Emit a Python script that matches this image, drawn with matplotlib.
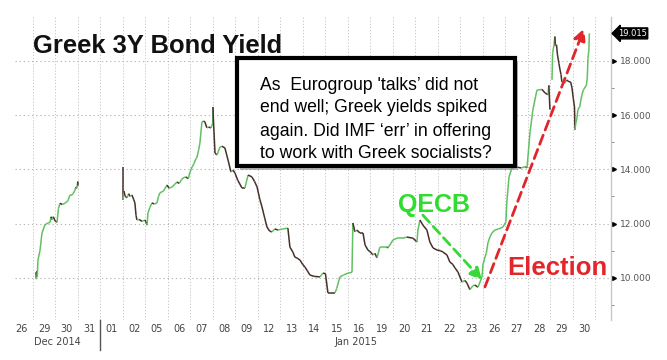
import numpy as np
import matplotlib
matplotlib.use("Agg")
import matplotlib.pyplot as plt
import matplotlib.transforms as mtransforms
from matplotlib.collections import LineCollection
from matplotlib.patches import Rectangle
from matplotlib import font_manager

# ---------------- data ----------------
day_labels = ["26", "29", "30", "31", "01", "02", "05", "06", "07", "08", "09", "12", "13",
              "14", "15", "16", "19", "20", "21", "22", "23", "26", "27", "28", "29", "30"]
month_labels = ["Dec 2014", "Jan 2015"]
month_start = [0, 4]

# trading-day position (day k spans k..k+1) and yield
xa = [1.13, 1.15, 1.17, 1.19, 1.22, 1.31, 1.40, 1.53, 1.62, 1.76, 1.80, 1.84, 1.90, 1.98, 2.07,
      2.13, 2.20, 2.30, 2.42, 2.50, 2.56, 2.64, 2.72, 2.78, 2.85, 2.91, 2.95, 2.99, 3.00]
ya = [10.2, 9.95, 10.25, 10.05, 10.65, 11.0, 11.65, 11.95, 12.0, 12.05, 12.25, 12.15, 12.25, 12.1, 12.05,
      12.55, 12.75, 12.7, 12.75, 12.8, 12.85, 13.05, 13.05, 13.1, 13.2, 13.35, 13.3, 13.55, 13.4]

xb = [5.00, 5.00, 5.04, 5.10, 5.18, 5.25, 5.32, 5.40, 5.47, 5.53,
      5.58, 5.62, 5.72, 5.85, 5.98, 6.05, 6.07, 6.11, 6.20, 6.29,
      6.40, 6.51, 6.58, 6.64, 6.80, 6.96, 7.05, 7.18, 7.30, 7.40,
      7.50, 7.60, 7.67, 7.80, 7.90, 7.98, 8.07, 8.15, 8.22, 8.29,
      8.36, 8.42, 8.51, 8.58, 8.64, 8.73, 8.80, 8.91, 8.99, 9.00,
      9.02, 9.09, 9.18, 9.31, 9.40, 9.53, 9.67, 9.80, 9.89, 9.98,
      10.10, 10.29, 10.42, 10.56, 10.73, 10.85, 10.96, 11.08, 11.18, 11.30,
      11.40, 11.52, 11.62, 11.75, 11.89, 12.10, 12.33, 12.42, 12.55, 12.64,
      12.75, 12.87, 12.98, 13.09, 13.20, 13.31, 13.50, 13.76, 13.89, 14.00,
      14.11, 14.42, 14.50, 14.64, 14.80, 15.00, 15.18, 15.22, 15.31, 15.40,
      15.53, 15.67, 15.76, 15.89, 16.00, 16.11, 16.20, 16.29, 16.42, 16.51,
      16.73, 16.78, 17.00, 17.18, 17.44, 17.62, 17.89, 18.07, 18.11, 18.20,
      18.33, 18.51, 18.64, 18.78, 18.96, 19.10, 19.22, 19.40, 19.53, 19.65,
      19.76, 19.89, 20.07, 20.20, 20.29, 20.42, 20.55, 20.64, 20.78, 20.96,
      21.00, 21.09, 21.15, 21.22, 21.31, 21.40, 21.53, 21.70, 21.89, 22.02,
      22.07, 22.16, 22.29, 22.51, 22.70, 22.90, 22.96, 23.00, 23.09, 23.22,
      23.40, 23.62, 23.76, 23.89, 23.93, 23.98]
yb = [14.08, 12.87, 13.2, 13.0, 12.95, 13.1, 13.0, 13.05, 12.9, 12.76,
      12.3, 12.13, 12.15, 12.08, 12.13, 12.0, 11.94, 12.39, 12.6, 12.76,
      12.72, 12.76, 13.0, 13.13, 13.2, 13.42, 13.3, 13.35, 13.45, 13.53,
      13.48, 13.62, 13.68, 13.72, 13.65, 13.90, 14.08, 14.2, 14.35, 14.45,
      14.7, 14.97, 15.75, 15.78, 15.75, 15.53, 15.56, 15.53, 15.7, 16.30,
      15.82, 14.60, 14.53, 14.82, 14.85, 14.79, 14.34, 13.90, 13.97, 13.86,
      13.6, 13.31, 13.31, 13.79, 13.72, 13.55, 13.35, 12.9, 12.61, 12.2,
      11.87, 11.72, 11.69, 11.8, 11.76, 11.80, 11.83, 11.13, 10.95, 10.76,
      10.72, 10.65, 10.5, 10.39, 10.25, 10.10, 10.05, 10.03, 10.17, 10.15,
      9.44, 9.44, 9.6, 10.03, 10.1, 10.17, 10.20, 12.02, 11.69, 11.76,
      11.65, 11.65, 11.21, 11.02, 10.95, 10.84, 10.9, 10.73, 11.13, 11.13,
      11.13, 11.10, 11.39, 11.46, 11.46, 11.50, 11.46, 11.32, 11.76, 12.13,
      11.94, 11.76, 11.32, 11.10, 11.02, 11.0, 10.95, 10.84, 10.58, 10.5,
      10.36, 10.21, 9.84, 9.9, 9.80, 9.56, 9.7, 9.73, 9.65, 10.03,
      10.47, 10.76, 10.9, 11.28, 11.5, 11.65, 11.76, 11.8, 11.87, 12.06,
      12.87, 13.72, 14.05, 14.08, 14.05, 14.1, 14.05, 14.45, 15.34, 16.19,
      16.92, 16.95, 16.82, 16.75, 17.1, 16.2]

xc = [24.07, 24.10, 24.16, 24.20, 24.22, 24.27, 24.31, 24.38, 24.42, 24.47, 24.51, 24.60, 24.64,
      24.72, 24.78, 24.90, 24.96, 25.02, 25.07, 25.09, 25.13, 25.18, 25.22, 25.30, 25.40, 25.47,
      25.60, 25.64, 25.67, 25.71, 25.73]
yc = [17.3, 18.3, 18.6, 18.9, 18.55, 18.6, 18.25, 17.9, 17.7, 17.5, 17.22, 17.25, 17.18,
      17.3, 17.25, 17.22, 17.0, 16.6, 16.3, 15.45, 15.7, 15.89, 16.2, 16.3, 16.75, 16.94,
      17.1, 17.4, 18.1, 18.4, 19.015]

last_value = 19.015
y_ticks = [10, 12, 14, 16, 18]
y_minor = [9, 11, 13, 15, 17, 19]

qecb_arrow = [(18.33, 12.31), (20.96, 9.92)]
election_arrow = [(21.09, 9.66), (25.5, 19.2)]

box_lines = ["As  Eurogroup 'talks’ did not",
             "end well; Greek yields spiked",
             "again. Did IMF ‘err’ in offering",
             "to work with Greek socialists?"]

# ---------------- figure ----------------
W, H = 667, 360
fig = plt.figure(figsize=(W / 100, H / 100), dpi=100)
ax = fig.add_axes([15 / W, 1 - 320 / H, (610.7 - 15) / W, (320 - 17) / H])
ax.set_xlim(0.2, 26.68)
ax.set_ylim(8.44, 19.62)

GREEN = "#62c062"
DARK = "#47302a"

def draw_series(x, y):
    x = np.asarray(x, float)
    y = np.asarray(y, float)
    pts = np.column_stack([x, y])
    segs = np.stack([pts[:-1], pts[1:]], axis=1)
    cols = []
    prev = GREEN
    for dy in np.diff(y):
        if dy > 0:
            prev = GREEN
        elif dy < 0:
            prev = DARK
        cols.append(prev)
    lc = LineCollection(segs, colors=cols, linewidths=1.1, capstyle="butt", joinstyle="miter", zorder=3)
    ax.add_collection(lc)

for xs, ys in [(xa, ya), (xb, yb), (xc, yc)]:
    draw_series(xs, ys)

# grids
ax.set_xticks(np.arange(len(day_labels)) + 0.5)
ax.set_xticklabels(day_labels, fontsize=7, color="#444444")
ax.set_xticks(np.arange(1, len(day_labels) + 1), minor=True)
ax.tick_params(axis="x", which="both", length=0, pad=3)
ax.grid(which="minor", axis="x", linestyle=(0, (1.2, 2)), color="#c4c4c4", lw=0.7)

ax.yaxis.tick_right()
ax.set_yticks(y_ticks)
ax.set_yticklabels([f"{v:.3f}" for v in y_ticks], fontsize=6.5, color="#555555")
ax.set_yticks(y_minor, minor=True)
ax.tick_params(axis="y", which="major", length=0, pad=7)
ax.tick_params(axis="y", which="minor", length=2.5, color="#888888", width=0.7)
ax.grid(which="major", axis="y", linestyle=(0, (1.2, 2.5)), color="#b8b8b8", lw=0.8)

for s in ["top", "left", "bottom"]:
    ax.spines[s].set_visible(False)
ax.spines["right"].set_color("#c8c8c8")
ax.spines["right"].set_linewidth(1.0)

btrans = mtransforms.blended_transform_factory(ax.transAxes, ax.transData)
ax.plot([1.006] * len(y_ticks), y_ticks, ls="none", marker=">", ms=2.8, color="black",
        transform=btrans, clip_on=False)

# last value tag
ax.text(1.012, last_value, f"{last_value:.3f}", transform=btrans, ha="left", va="center",
        fontsize=6, color="white",
        bbox=dict(boxstyle="larrow,pad=0.12", fc="black", ec="black"))

# month labels and separator
xtrans = mtransforms.blended_transform_factory(ax.transData, ax.transAxes)
xl = ax.get_xlim()
bounds = month_start + [xl[1]]
for k, lab in enumerate(month_labels):
    a = max(bounds[k], xl[0])
    b = bounds[k + 1]
    ax.text((a + b) / 2, -0.072, lab, transform=xtrans, ha="center", va="center",
            fontsize=7, color="#444444")
ax.plot([month_start[1]] * 2, [0.0, -0.10], transform=xtrans, color="#555555", lw=1.0, clip_on=False)

# title
fig.text(33 / W, 1 - 53 / H, "Greek 3Y Bond Yield", fontsize=18.4, fontweight="bold",
         family="Liberation Sans", color="#111111", va="baseline", ha="left")

# comment box
shadow = Rectangle((240 / W, 1 - 170 / H), (515 - 237) / W, (166 - 58) / H,
                   transform=fig.transFigure, fc="#8a8a8a", ec="none", alpha=0.6, zorder=5)
box = Rectangle((237 / W, 1 - 166 / H), (515 - 237) / W, (166 - 58) / H,
                transform=fig.transFigure, fc="white", ec="black", lw=3.0, zorder=6)
fig.add_artist(shadow)
fig.add_artist(box)
baselines = [89.7, 112.5, 135.5, 158.3]
for line, yb_ in zip(box_lines, baselines):
    fig.text(260 / W, 1 - yb_ / H, line, fontsize=12.7, family="Liberation Sans",
             color="black", va="baseline", ha="left", zorder=7)

# condensed annotation fonts
try:
    font_manager.findfont(font_manager.FontProperties(family="Liberation Sans Narrow", weight="bold"),
                          fallback_to_default=False)
    narrow = True
except Exception:
    narrow = False
fam = "Liberation Sans Narrow" if narrow else "Liberation Sans"
q_size = 22 if narrow else 18
e_size = 23 if narrow else 18.5

fig.text(398 / W, 1 - 212 / H, "QECB", fontsize=q_size, fontweight="bold", family=fam,
         color="#2fdc2f", va="baseline", ha="left")
fig.text(507 / W, 1 - 275 / H, "Election", fontsize=e_size, fontweight="bold", family=fam,
         color="#e3262b", va="baseline", ha="left")

# dashed arrows
def dashed_arrow(p0, p1, color):
    ax.annotate("", xy=p1, xytext=p0,
                arrowprops=dict(arrowstyle="-|>,head_length=0.7,head_width=0.35", color=color,
                                lw=2.0, linestyle=(0, (3.5, 2)), shrinkA=0, shrinkB=0),
                zorder=4)

dashed_arrow(qecb_arrow[0], qecb_arrow[1], "#38d838")
dashed_arrow(election_arrow[0], election_arrow[1], "#e0262b")

fig.savefig("out.png", dpi=100)
